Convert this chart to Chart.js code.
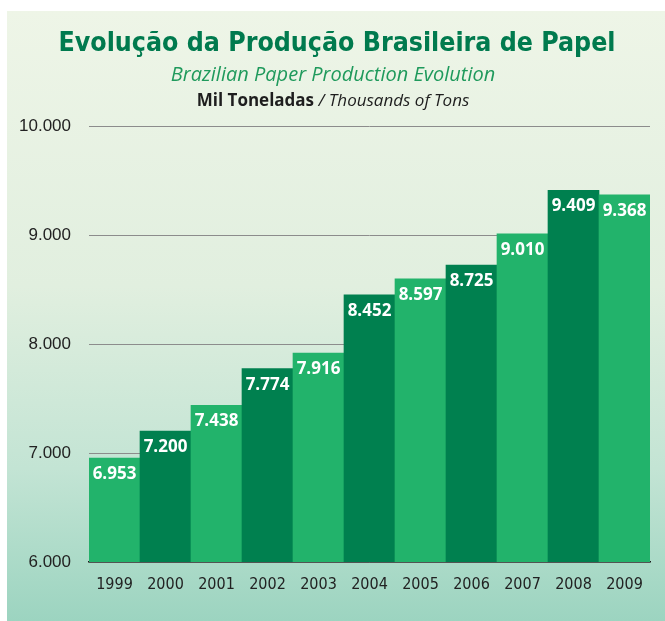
<!DOCTYPE html>
<html>
<head>
<meta charset="utf-8">
<script src="https://cdn.jsdelivr.net/npm/chart.js@4/dist/chart.umd.min.js"></script>
<style>
  html, body { margin: 0; padding: 0; background: #fff; }
  #chart { display: block; }
</style>
</head>
<body>
<canvas id="chart" width="665" height="621"></canvas>
<script>
// ===== Data =====
const years = ["1999", "2000", "2001", "2002", "2003", "2004", "2005", "2006", "2007", "2008", "2009"];
const production = [6953, 7200, 7438, 7774, 7916, 8452, 8597, 8725, 9010, 9409, 9368];
const yTicks = [6000, 7000, 8000, 9000, 10000];

const LIGHT = "#22b36b";
const DARK = "#00804f";

// 6953 -> "6.953"
function fmt(n) {
  return String(n).replace(/\B(?=(\d{3})+(?!\d))/g, ".");
}

// ===== Background panel + titles =====
const panelPlugin = {
  id: "panel",
  beforeDraw(chart) {
    const ctx = chart.ctx;
    ctx.save();
    const g = ctx.createLinearGradient(0, 11, 0, 621);
    g.addColorStop(0, "#eef5e7");
    g.addColorStop(0.45, "#e1efdf");
    g.addColorStop(0.75, "#c3e4d4");
    g.addColorStop(1, "#9cd4c0");
    ctx.fillStyle = g;
    ctx.fillRect(7, 11, 658, 610);

    ctx.textAlign = "center";
    ctx.textBaseline = "alphabetic";
    ctx.fillStyle = "#007a4e";
    ctx.font = 'bold 26.5px "DejaVu Sans Condensed", "DejaVu Sans"';
    ctx.fillText("Evolução da Produção Brasileira de Papel", 337, 51);

    ctx.fillStyle = "#1f9a5c";
    ctx.font = 'italic 20px "Open Sans"';
    ctx.fillText("Brazilian Paper Production Evolution", 333, 81);

    // mixed bold / italic line
    const a = "Mil Toneladas";
    const b = " / Thousands of Tons";
    const fa = 'bold 17px "Open Sans"';
    const fb = 'italic 17px "Open Sans"';
    ctx.font = fa;
    const wa = ctx.measureText(a).width;
    ctx.font = fb;
    const wb = ctx.measureText(b).width;
    let x = 333 - (wa + wb) / 2;
    ctx.textAlign = "left";
    ctx.fillStyle = "#1e1e1e";
    ctx.font = fa;
    ctx.fillText(a, x, 106);
    ctx.font = fb;
    ctx.fillText(b, x + wa, 106);
    ctx.restore();
  }
};

// ===== Value labels inside bars =====
const valuePlugin = {
  id: "values",
  afterDatasetsDraw(chart) {
    const ctx = chart.ctx;
    const meta = chart.getDatasetMeta(0);
    ctx.save();
    ctx.fillStyle = "#ffffff";
    ctx.font = 'bold 17px "Open Sans"';
    ctx.textAlign = "center";
    ctx.textBaseline = "alphabetic";
    meta.data.forEach((bar, i) => {
      ctx.fillText(fmt(production[i]), bar.x, bar.y + 21);
    });
    ctx.restore();
  }
};

new Chart(document.getElementById("chart"), {
  type: "bar",
  data: {
    labels: years,
    datasets: [{
      data: production,
      backgroundColor: (c) => (c.dataIndex % 2 ? DARK : LIGHT),
      borderWidth: 0,
      barPercentage: 1,
      categoryPercentage: 1
    }]
  },
  options: {
    responsive: false,
    animation: false,
    layout: { padding: { top: 126, right: 15, left: 0, bottom: 0 } },
    plugins: {
      legend: { display: false },
      tooltip: { enabled: false }
    },
    scales: {
      x: {
        z: 1,
        grid: { display: false, drawTicks: false },
        border: { display: true, color: "#1a1a1a", width: 1.5 },
        ticks: {
          color: "#222",
          font: { family: '"Liberation Sans Narrow", "DejaVu Sans Condensed", sans-serif', size: 16 },
          padding: 13
        },
        afterFit(scale) { scale.height = 59; }
      },
      y: {
        min: 6000,
        max: 10000,
        afterBuildTicks(scale) { scale.ticks = yTicks.map(v => ({ value: v })); },
        grid: { color: "#8c8c8c", lineWidth: 1, drawTicks: false },
        border: { display: false },
        ticks: {
          color: "#222",
          font: { family: '"Liberation Sans", sans-serif', size: 17 },
          padding: 18,
          callback: (v) => fmt(v)
        },
        afterFit(scale) { scale.width = 89; }
      }
    }
  },
  plugins: [panelPlugin, valuePlugin]
});
</script>
</body>
</html>
